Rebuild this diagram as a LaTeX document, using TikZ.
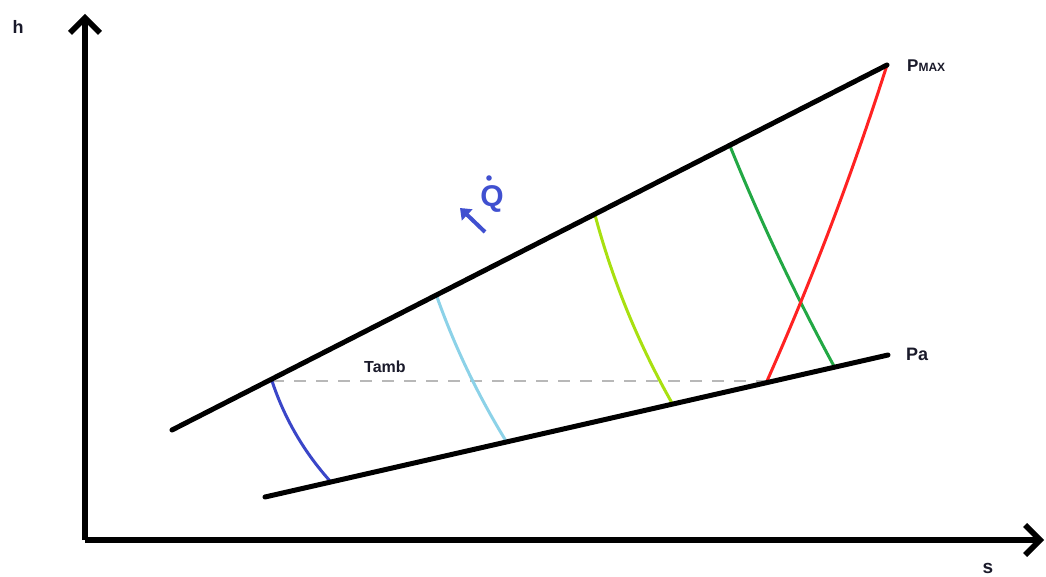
\documentclass[tikz,border=0pt]{standalone}
\usepackage{fontspec}
\setmainfont{Liberation Sans}
\usetikzlibrary{arrows.meta}
\definecolor{dblue}{HTML}{3A46C8}
\definecolor{lblue}{HTML}{8CD2E8}
\definecolor{ygreen}{HTML}{A8E010}
\definecolor{mgreen}{HTML}{22A844}
\definecolor{mred}{HTML}{FF2222}
\definecolor{qblue}{HTML}{4050D0}
\definecolor{txt}{HTML}{1A1A2A}
\tikzset{
  axis/.style={line width=5.5pt,-{Straight Barb[length=15pt,width=30pt]}},
  isobar/.style={line width=5pt,line cap=round},
  isotherm/.style={line width=3pt},
  lbl/.style={font=\bfseries,text=txt,inner sep=0pt},
}
\begin{document}
\begin{tikzpicture}[x=1pt,y=-1pt]
\useasboundingbox (0,0) rectangle (1046,577);
% axes
\coordinate (O) at (85,540);
\coordinate (Ytop) at (85,14);
\coordinate (Xend) at (1044,540);
\draw[axis] (O) -- (Ytop);
\draw[axis] (O) -- (Xend);
\node[lbl,font=\bfseries\fontsize{18}{18}\selectfont] (h) at (18,27) {h};
\node[lbl,font=\bfseries\fontsize{19}{19}\selectfont] (s) at (988,568) {s};
% isobars
\coordinate (U0) at (172,430);
\coordinate (U1) at (887,65);
\coordinate (L0) at (265,497);
\coordinate (L1) at (888,355);
% points on isobars
\coordinate (A1) at (272,381);
\coordinate (B1) at (330,481);
\coordinate (A2) at (437,297);
\coordinate (B2) at (506,441);
\coordinate (A3) at (595,215);
\coordinate (B3) at (672,403);
\coordinate (A4) at (730,146);
\coordinate (B4) at (835,368);
\coordinate (R0) at (767,381);
% dashed Tamb
\draw[line width=2.5pt,color=black!28,dash pattern=on 12pt off 10pt] (A1) -- (R0);
% isotherms
\draw[isotherm,dblue] (A1) .. controls (284.4,418.3) and (303.8,451.7) .. (B1);
\draw[isotherm,lblue] (A2) .. controls (455,347.4) and (478,395.4) .. (B2);
\draw[isotherm,ygreen] (A3) .. controls (612.7,281) and (638.3,343.6) .. (B3);
\draw[isotherm,mgreen] (A4) .. controls (760.8,222) and (795.8,296) .. (B4);
\draw[isotherm,mred] (R0) .. controls (812.6,278.4) and (852.6,172.8) .. (U1);
% isobar lines on top
\draw[isobar] (U0) -- (U1);
\draw[isobar] (L0) -- (L1);
% labels
\node[lbl,anchor=west] (pmax) at (907,66) {\fontsize{17}{17}\selectfont P\fontsize{12}{12}\selectfont MAX};
\node[lbl,anchor=west,font=\bfseries\fontsize{18}{18}\selectfont] (pa) at (906,354) {Pa};
\node[lbl,anchor=west,font=\bfseries\fontsize{16}{16}\selectfont] (tamb) at (364,367) {Tamb};
% heat Q dot
\node[text=qblue,font=\bfseries\fontsize{30}{30}\selectfont,inner sep=0pt] (Q) at (492,199) {Q};
\fill[qblue] (489,178) circle (2.8pt);
\coordinate (qa) at (485,232);
\coordinate (qb) at (460,208);
\draw[qblue,line width=4pt,-{Triangle[length=10pt,width=15pt]}] (qa) -- (qb);
\end{tikzpicture}
\end{document}
